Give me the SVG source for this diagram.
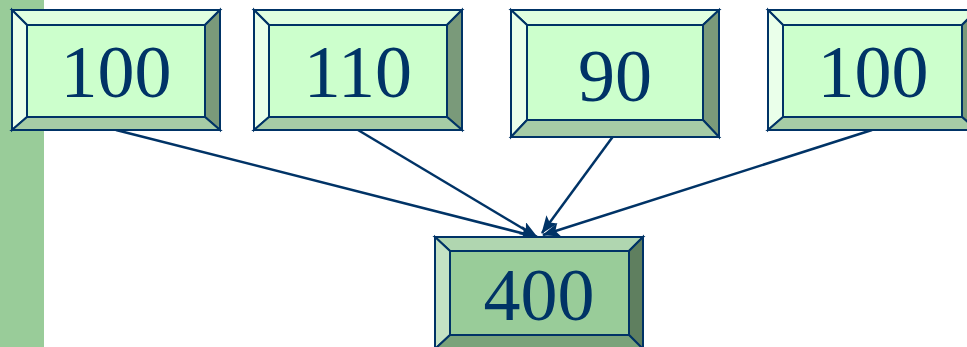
<svg xmlns="http://www.w3.org/2000/svg" width="967" height="347" viewBox="0 0 967 347">
<style>
.s{stroke:#003366;stroke-width:2;stroke-linejoin:miter}
.lt{fill:#e0ffe0}.ll{fill:#eaffea}.lr{fill:#7a9a7a}.lb{fill:#a6cca6}.lf{fill:#ccffcc}
.dt{fill:#b0d6b0}.dl{fill:#c4e2c4}.dr{fill:#5f7f5f}.db{fill:#7aa37a}.df{fill:#99cc99}
.t{font-family:"Liberation Serif","Times New Roman",serif;font-size:74px;fill:#003366;text-anchor:middle}
.c{stroke:#003366;stroke-width:2.5;fill:none}
</style>
<defs>
<marker id="ah" viewBox="0 0 18 14" refX="17" refY="7" markerWidth="18" markerHeight="14" markerUnits="userSpaceOnUse" orient="auto">
<path d="M0,0 L18,7 L0,14 L4,7 z" fill="#003366"/>
</marker>
</defs>
<rect x="0" y="0" width="44" height="347" fill="#99cc99"/>
<g id="connectors">
<line class="c" x1="116" y1="130" x2="537" y2="237" marker-end="url(#ah)"/>
<line class="c" x1="358" y1="130" x2="537" y2="237" marker-end="url(#ah)"/>
<line class="c" x1="617" y1="131" x2="542" y2="233" marker-end="url(#ah)"/>
<line class="c" x1="872" y1="130" x2="543" y2="235" marker-end="url(#ah)"/>
</g>
<g id="n100a">
<polygon class="lt s" points="12,10 220,10 205,25 27,25"/>
<polygon class="ll s" points="12,10 27,25 27,117 12,130"/>
<polygon class="lr s" points="220,10 220,130 205,117 205,25"/>
<polygon class="lb s" points="12,130 27,117 205,117 220,130"/>
<rect class="lf s" x="27" y="25" width="178" height="92"/>
<text class="t" x="116" y="97">100</text>
</g>
<g id="n110">
<polygon class="lt s" points="254,10 462,10 447,25 269,25"/>
<polygon class="ll s" points="254,10 269,25 269,117 254,130"/>
<polygon class="lr s" points="462,10 462,130 447,117 447,25"/>
<polygon class="lb s" points="254,130 269,117 447,117 462,130"/>
<rect class="lf s" x="269" y="25" width="178" height="92"/>
<text class="t" x="358" y="97">110</text>
</g>
<g id="n90">
<polygon class="lt s" points="511,10 719,10 703,25 527,25"/>
<polygon class="ll s" points="511,10 527,25 527,120 511,137"/>
<polygon class="lr s" points="719,10 719,137 703,120 703,25"/>
<polygon class="lb s" points="511,137 527,120 703,120 719,137"/>
<rect class="lf s" x="527" y="25" width="176" height="95"/>
<text class="t" x="615" y="101">90</text>
</g>
<g id="n100b">
<polygon class="lt s" points="768,10 977,10 962,25 783,25"/>
<polygon class="ll s" points="768,10 783,25 783,117 768,130"/>
<polygon class="lr s" points="977,10 977,130 962,117 962,25"/>
<polygon class="lb s" points="768,130 783,117 962,117 977,130"/>
<rect class="lf s" x="783" y="25" width="179" height="92"/>
<text class="t" x="873" y="97">100</text>
</g>
<g id="n400">
<polygon class="dt s" points="435,237 643,237 629,251 450,251"/>
<polygon class="dl s" points="435,237 450,251 450,335 435,349"/>
<polygon class="dr s" points="643,237 643,349 629,335 629,251"/>
<polygon class="db s" points="435,349 450,335 629,335 643,349"/>
<rect class="df s" x="450" y="251" width="179" height="84"/>
<text class="t" x="539" y="320">400</text>
</g>
</svg>
